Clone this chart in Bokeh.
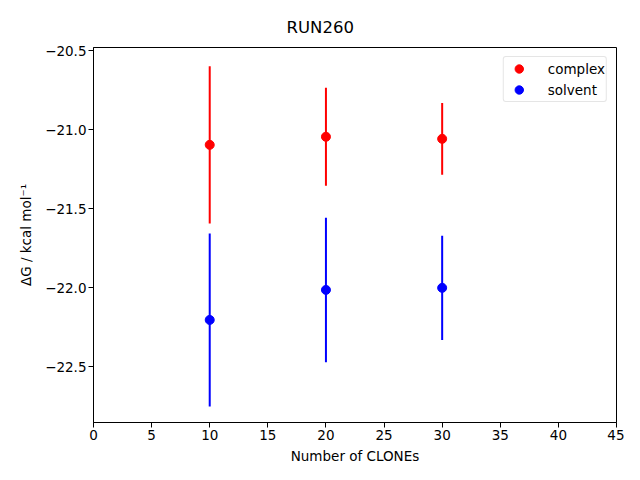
from bokeh.plotting import figure
from bokeh.models import ColumnDataSource, Range1d, FixedTicker, CustomJSTickFormatter, Legend, LegendItem
from bokeh.embed import file_html
from bokeh.resources import INLINE

clones = [10, 20, 30]
complex_dg = [-21.097, -21.046, -21.059]
complex_err = [0.497, 0.31, 0.227]
solvent_dg = [-22.205, -22.015, -22.002]
solvent_err = [0.547, 0.457, 0.33]
x_ticks = [0, 5, 10, 15, 20, 25, 30, 35, 40, 45]
y_ticks = [-22.5, -22.0, -21.5, -21.0, -20.5]

FONT = "DejaVu Sans"

p = figure(output_backend="svg", toolbar_location=None, title="RUN260",
           frame_width=523, frame_height=375,
           min_border_left=93, min_border_top=47, min_border_right=8, min_border_bottom=42,
           x_range=Range1d(0, 45), y_range=Range1d(-22.854, -20.481))
p.background_fill_color = "white"
p.border_fill_color = "white"
p.outline_line_color = "black"
p.outline_line_width = 1
p.grid.visible = False

p.title.align = "left"
p.title.offset = 193
p.title.standoff = 21
p.title.vertical_align = "bottom"
p.title.text_font = FONT
p.title.text_font_size = "16.5px"
p.title.text_font_style = "normal"
p.title.text_color = "black"

def draw(y, err, color):
    src = ColumnDataSource(dict(x=clones, y=y,
                                lo=[a - e for a, e in zip(y, err)],
                                hi=[a + e for a, e in zip(y, err)]))
    p.segment(x0="x", y0="lo", x1="x", y1="hi", source=src, line_color=color, line_width=2)
    return p.scatter(x="x", y="y", source=src, size=9, fill_color=color, line_color=color)

r1 = draw(complex_dg, complex_err, "#ff0000")
r2 = draw(solvent_dg, solvent_err, "#0000ff")

p.xaxis.ticker = FixedTicker(ticks=x_ticks)
p.yaxis.ticker = FixedTicker(ticks=y_ticks)
p.yaxis.formatter = CustomJSTickFormatter(code="return tick.toFixed(1).replace('-', '\u2212');")
for ax in (p.xaxis, p.yaxis):
    ax.major_tick_out = 5
    ax.major_tick_in = 0
    ax.minor_tick_out = 0
    ax.minor_tick_in = 0
    ax.major_label_text_font = FONT
    ax.major_label_text_font_size = "13.5px"
    ax.major_label_text_color = "black"
    ax.axis_label_text_font = FONT
    ax.axis_label_text_font_size = "13.5px"
    ax.axis_label_text_font_style = "normal"
    ax.axis_label_text_color = "black"
    ax.axis_line_color = "black"
    ax.major_tick_line_color = "black"
    ax.major_label_standoff = 2

p.xaxis.axis_label = "Number of CLONEs"
p.yaxis.axis_label = "ΔG / kcal mol⁻¹"
p.xaxis.axis_label_standoff = 5
p.yaxis.axis_label_standoff = 8

legend = Legend(items=[LegendItem(label="complex", renderers=[r1]),
                       LegendItem(label="solvent", renderers=[r2])],
                location="top_right")
legend.label_text_font = FONT
legend.label_text_font_size = "13.5px"
legend.label_text_color = "black"
legend.border_line_color = "#cccccc"
legend.border_line_width = 1
legend.border_radius = 3
legend.margin = 9
legend.padding = 1
legend.spacing = 0
legend.glyph_width = 28
legend.glyph_height = 21
legend.label_standoff = 15
legend.label_height = 21
p.add_layout(legend)

open("out.html", "w").write(file_html(p, INLINE))
